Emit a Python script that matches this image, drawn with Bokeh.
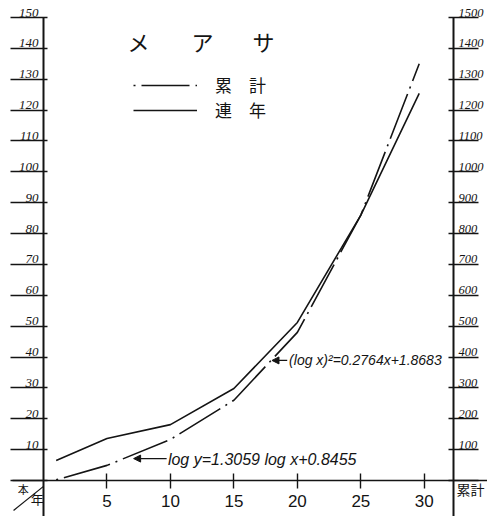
from bokeh.plotting import figure
from bokeh.models import (LinearAxis, Range1d, FixedTicker, ColumnDataSource, LabelSet,
                          Label, Arrow, NormalHead, Legend, LegendItem)
from bokeh.embed import file_html
from bokeh.resources import INLINE

# ---- data ----
years = [1, 5, 10, 15, 20, 25, 29.6]
annual = [6.5, 13.6, 18.1, 29.8, 51.2, 86.0, 125.4]        # 連年 (left axis)
cumulative = [2, 49, 133, 260, 480, 860, 1350]            # 累計 (right axis)

x_ticks = [5, 10, 15, 20, 25, 30]
left_ticks = list(range(0, 151, 10))
left_labels = [str(v) for v in range(10, 151, 10)]
right_ticks = list(range(0, 1501, 100))
right_labels = [str(v) for v in range(100, 1501, 100)]

title_chars = ["メ", "ア", "サ"]
legend_labels = ["累\u3000計", "連\u3000年"]
formula_upper = "(log x)²=0.2764x+1.8683"
formula_lower = "log y=1.3059 log x+0.8455"
corner_top = "本"
corner_bottom = "年"
right_axis_name = "累計"

# ---- layout constants (pixels) ----
W, H = 487, 516
X0_PX, XR_PX = 43, 453       # left axis / right axis position
Y0_PX, YT_PX = 480, 17       # x axis / top tick position
XMAX, YMAX = 32.3, 150
sx = (XR_PX - X0_PX) / XMAX
sy = (Y0_PX - YT_PX) / YMAX
x_start, x_end = -X0_PX / sx, XMAX + (W - XR_PX) / sx
y_start, y_end = -(H - Y0_PX) / sy, YMAX + YT_PX / sy

INK = "#141414"
CJK = "Noto Sans CJK JP"

p = figure(width=W, height=H, x_range=Range1d(x_start, x_end), y_range=Range1d(y_start, y_end),
           output_backend="svg", toolbar_location=None,
           x_axis_location=None, y_axis_location=None,
           min_border=0)
p.extra_y_ranges = {"cum": Range1d(y_start * 10, y_end * 10)}
p.outline_line_color = None
p.grid.visible = False
p.background_fill_color = "white"
p.border_fill_color = "white"

# ---- axes (fixed in data space) ----
xaxis = LinearAxis(fixed_location=0, bounds=(-2.45, x_end), ticker=FixedTicker(ticks=x_ticks),
                   major_tick_in=7, major_tick_out=8,
                   axis_line_width=1.6, axis_line_color=INK,
                   major_tick_line_width=1.4, major_tick_line_color=INK,
                   major_label_text_font_size="17px", major_label_text_font="Liberation Sans",
                   major_label_text_color=INK, major_label_standoff=6)
p.add_layout(xaxis, "below")

yaxis = LinearAxis(fixed_location=0, bounds=(y_start, YMAX), ticker=FixedTicker(ticks=left_ticks),
                   major_tick_in=4, major_tick_out=33,
                   axis_line_width=2, axis_line_color=INK,
                   major_tick_line_width=1.3, major_tick_line_color=INK,
                   major_label_text_color=None)
p.add_layout(yaxis, "left")

raxis = LinearAxis(y_range_name="cum", fixed_location=XMAX, bounds=(y_start * 10, YMAX * 10),
                   ticker=FixedTicker(ticks=right_ticks),
                   major_tick_in=5, major_tick_out=25,
                   axis_line_width=2, axis_line_color=INK,
                   major_tick_line_width=1.3, major_tick_line_color=INK,
                   major_label_text_color=None)
p.add_layout(raxis, "right")

# tick labels sitting on the tick lines
lsrc = ColumnDataSource(dict(x=[0] * len(left_labels), y=left_ticks[1:], t=left_labels))
p.add_layout(LabelSet(x="x", y="y", text="t", source=lsrc, x_offset=-5, y_offset=1,
                      text_align="right", text_baseline="alphabetic",
                      text_font="Liberation Sans", text_font_style="italic",
                      text_font_size="13px", text_color=INK))
rsrc = ColumnDataSource(dict(x=[XMAX] * len(right_labels), y=right_ticks[1:], t=right_labels))
p.add_layout(LabelSet(x="x", y="y", text="t", source=rsrc, y_range_name="cum",
                      x_offset=5, y_offset=1, text_align="left", text_baseline="alphabetic",
                      text_font="Liberation Sans", text_font_style="italic",
                      text_font_size="12.5px", text_color=INK))

# corner diagonal and corner texts
p.add_layout(Arrow(end=None, x_start=-2.36, y_start=-9.7, x_end=0, y_end=-1.9,
                   line_width=1.2, line_color=INK))
p.add_layout(Label(x=-1.6, y=-2.6, text=corner_top, text_align="center", text_baseline="middle",
                   text_font=CJK, text_font_size="11px", text_color=INK))
p.add_layout(Label(x=-0.5, y=-5.8, text=corner_bottom, text_align="center", text_baseline="middle",
                   text_font=CJK, text_font_size="13px", text_color=INK))
p.add_layout(Label(x=XMAX, y=-2.6, x_offset=3, text=right_axis_name, text_align="left",
                   text_baseline="middle", text_font=CJK, text_font_size="14px", text_color=INK))

# ---- series ----
src = ColumnDataSource(dict(year=years, annual=annual, cum=cumulative))
r_cum = p.line("year", "cum", source=src, y_range_name="cum", line_color=INK, line_width=1.6,
               line_dash="48 6 2 6", line_dash_offset=54)
r_ann = p.line("year", "annual", source=src, line_color=INK, line_width=1.6)

# ---- title ----
for cx, ch in zip([7.48, 12.53, 17.33], title_chars):
    p.add_layout(Label(x=cx, y=142.5, text=ch, text_align="center", text_baseline="middle",
                       text_font=CJK, text_font_size="22px", text_color=INK))

# ---- legend ----
legend = Legend(items=[LegendItem(label=legend_labels[0], renderers=[r_cum]),
                       LegendItem(label=legend_labels[1], renderers=[r_ann])],
                location=(133, 394), glyph_width=64, glyph_height=20, label_height=20,
                label_standoff=18, spacing=0, padding=0, margin=0,
                border_line_color=None, background_fill_alpha=0,
                label_text_font=CJK, label_text_font_size="17px", label_text_color=INK)
p.add_layout(legend)

# ---- formula annotations ----
head = dict(size=7, fill_color=INK, line_color=INK)
p.add_layout(Arrow(end=NormalHead(**head), x_start=19.2, y_start=38.9, x_end=18.0, y_end=38.9,
                   line_width=1.2, line_color=INK))
p.add_layout(Label(x=19.35, y=38.9, text=formula_upper, text_align="left", text_baseline="middle",
                   text_font="Liberation Sans", text_font_style="italic",
                   text_font_size="14px", text_color=INK))
p.add_layout(Arrow(end=NormalHead(**head), x_start=9.7, y_start=7.1, x_end=7.1, y_end=7.1,
                   line_width=1.2, line_color=INK))
p.add_layout(Label(x=9.8, y=6.8, text=formula_lower, text_align="left", text_baseline="middle",
                   text_font="Liberation Sans", text_font_style="italic",
                   text_font_size="16px", text_color=INK))

open("out.html", "w").write(file_html(p, INLINE))
